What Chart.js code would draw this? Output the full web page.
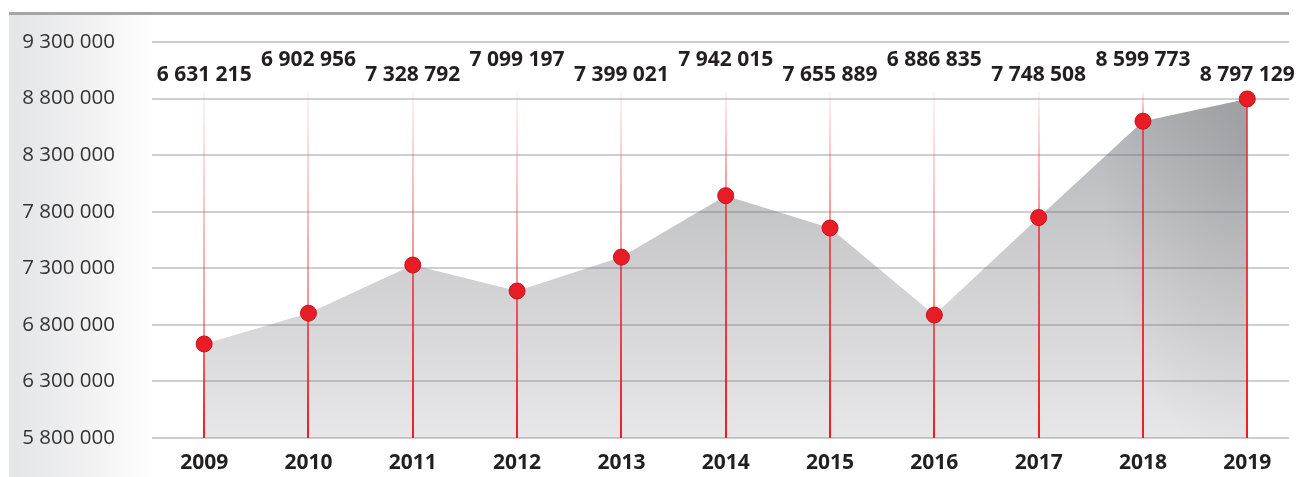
<!DOCTYPE html>
<html>
<head>
<meta charset="utf-8">
<script src="https://cdn.jsdelivr.net/npm/chart.js@4.4.1/dist/chart.umd.min.js"></script>
<style>
  html, body { margin: 0; padding: 0; background: #ffffff; }
  #wrap { width: 1298px; height: 477px; position: relative; }
</style>
</head>
<body>
<div id="wrap"><canvas id="c"></canvas></div>
<script>
const years = ['2009', '2010', '2011', '2012', '2013', '2014', '2015', '2016', '2017', '2018', '2019'];
const values = [6631215, 6902956, 7328792, 7099197, 7399021, 7942015, 7655889, 6886835, 7748508, 8599773, 8797129];
const yMin = 5800000;
const yMax = 9300000;
const yStep = 500000;

function fmt(v) {
  return String(Math.round(v)).replace(/\B(?=(\d{3})+(?!\d))/g, ' ');
}

const points = values.map((v, i) => ({ x: i, y: v }));
const FONT = "'Open Sans', 'Noto Sans', sans-serif";

const decor = {
  id: 'decor',
  beforeDraw(chart) {
    const ctx = chart.ctx;
    const H = chart.height;
    ctx.save();
    const g = ctx.createLinearGradient(9, 0, 155, 0);
    g.addColorStop(0, '#e4e5e7');
    g.addColorStop(0.5, '#f0f0f1');
    g.addColorStop(1, '#ffffff');
    ctx.fillStyle = g;
    ctx.fillRect(9, 13, 146, H - 13);
    ctx.strokeStyle = '#a5a5a7';
    ctx.lineWidth = 3;
    ctx.beginPath();
    ctx.moveTo(9, 13.5);
    ctx.lineTo(chart.chartArea.right, 13.5);
    ctx.stroke();
    ctx.restore();
  },
  afterDatasetDraw(chart, args) {
    if (args.index !== 0) return;
    const ctx = chart.ctx;
    const xs = chart.scales.x, ys = chart.scales.y;
    const area = chart.chartArea;
    const meta = chart.getDatasetMeta(0);
    ctx.save();
    // darker shading toward the upper right, clipped to the filled area
    ctx.beginPath();
    meta.data.forEach((p, i) => { if (i === 0) ctx.moveTo(p.x, p.y); else ctx.lineTo(p.x, p.y); });
    const last = meta.data[meta.data.length - 1], first = meta.data[0];
    ctx.lineTo(last.x, area.bottom);
    ctx.lineTo(first.x, area.bottom);
    ctx.closePath();
    ctx.clip();
    ctx.translate(last.x, last.y + 40);
    ctx.scale(0.45, 1);
    const rg = ctx.createRadialGradient(0, 0, 0, 0, 0, 330);
    rg.addColorStop(0, 'rgba(70,70,76,0.2)');
    rg.addColorStop(0.5, 'rgba(70,70,76,0.1)');
    rg.addColorStop(1, 'rgba(70,70,76,0)');
    ctx.fillStyle = rg;
    ctx.fillRect(-340, -340, 680, 680);
    ctx.restore();

    ctx.save();
    // grid lines over the area
    ctx.lineWidth = 2;
    ctx.strokeStyle = 'rgba(110,110,118,0.33)';
    for (let v = yMin; v <= yMax; v += yStep) {
      const y = Math.round(ys.getPixelForValue(v));
      ctx.beginPath();
      ctx.moveTo(area.left, y);
      ctx.lineTo(area.right, y);
      ctx.stroke();
    }
    // red drop lines
    const top = area.top + 50;
    values.forEach((v, i) => {
      const x = Math.round(xs.getPixelForValue(i));
      const py = ys.getPixelForValue(v);
      const bot = area.bottom;
      const g1 = ctx.createLinearGradient(0, top, 0, py);
      g1.addColorStop(0, 'rgba(237,28,36,0.05)');
      g1.addColorStop(1, 'rgba(237,28,36,0.5)');
      ctx.strokeStyle = g1;
      ctx.lineWidth = 2;
      ctx.beginPath();
      ctx.moveTo(x, top);
      ctx.lineTo(x, py);
      ctx.stroke();
      const g2 = ctx.createLinearGradient(0, py, 0, bot);
      g2.addColorStop(0, 'rgba(237,28,36,0.65)');
      g2.addColorStop(1, 'rgba(237,28,36,1)');
      ctx.strokeStyle = g2;
      ctx.beginPath();
      ctx.moveTo(x, py);
      ctx.lineTo(x, bot);
      ctx.stroke();
    });
    ctx.restore();
  },
  afterDatasetsDraw(chart) {
    const ctx = chart.ctx;
    const xs = chart.scales.x;
    const area = chart.chartArea;
    ctx.save();
    ctx.font = 'bold 21px ' + FONT;
    ctx.fillStyle = '#231f20';
    ctx.textAlign = 'center';
    ctx.textBaseline = 'middle';
    values.forEach((v, i) => {
      const x = xs.getPixelForValue(i);
      const y = area.top + (i % 2 === 0 ? 33 : 18);
      ctx.fillText(fmt(v), x, y);
    });
    ctx.restore();
  }
};

function areaFill(context) {
  const chart = context.chart;
  const a = chart.chartArea;
  if (!a) return '#c8c8ca';
  const g = chart.ctx.createLinearGradient(0, a.top, 0, a.bottom);
  g.addColorStop(0, '#a9aaad');
  g.addColorStop(0.3, '#bcbdc0');
  g.addColorStop(0.6, '#d1d1d3');
  g.addColorStop(1, '#e7e7e9');
  return g;
}

new Chart(document.getElementById('c'), {
  type: 'line',
  data: {
    datasets: [
      {
        data: points,
        order: 2,
        fill: 'start',
        backgroundColor: areaFill,
        borderWidth: 0,
        borderColor: 'rgba(0,0,0,0)',
        pointRadius: 0,
        tension: 0
      },
      {
        data: points,
        order: 1,
        fill: false,
        showLine: false,
        pointRadius: 8,
        pointHoverRadius: 8,
        pointBackgroundColor: '#e81c25',
        pointBorderColor: '#c5141c',
        pointBorderWidth: 1
      }
    ]
  },
  options: {
    responsive: true,
    maintainAspectRatio: false,
    animation: false,
    events: [],
    layout: { padding: { left: 10, right: 8, top: 42, bottom: 0 } },
    plugins: { legend: { display: false }, tooltip: { enabled: false } },
    scales: {
      x: {
        type: 'linear',
        min: -0.5,
        max: 10.4,
        afterBuildTicks: s => { s.ticks = years.map((_, i) => ({ value: i })); },
        afterFit: s => { s.height = 39; s.paddingLeft = 0; s.paddingRight = 0; },
        grid: { display: false, drawTicks: false },
        border: { display: false },
        ticks: {
          autoSkip: false,
          maxRotation: 0,
          padding: 12,
          color: '#231f20',
          font: { family: FONT, size: 21, weight: 'bold' },
          callback: v => years[v] !== undefined ? years[v] : ''
        }
      },
      y: {
        type: 'linear',
        min: yMin,
        max: yMax,
        afterFit: s => { s.width = 142; s.paddingTop = 0; s.paddingBottom = 0; },
        grid: { display: false, drawTicks: false },
        border: { display: false },
        ticks: {
          stepSize: yStep,
          padding: 37,
          color: '#333333',
          font: { family: FONT, size: 20.5 },
          callback: v => fmt(v)
        }
      }
    }
  },
  plugins: [decor]
});
</script>
</body>
</html>
